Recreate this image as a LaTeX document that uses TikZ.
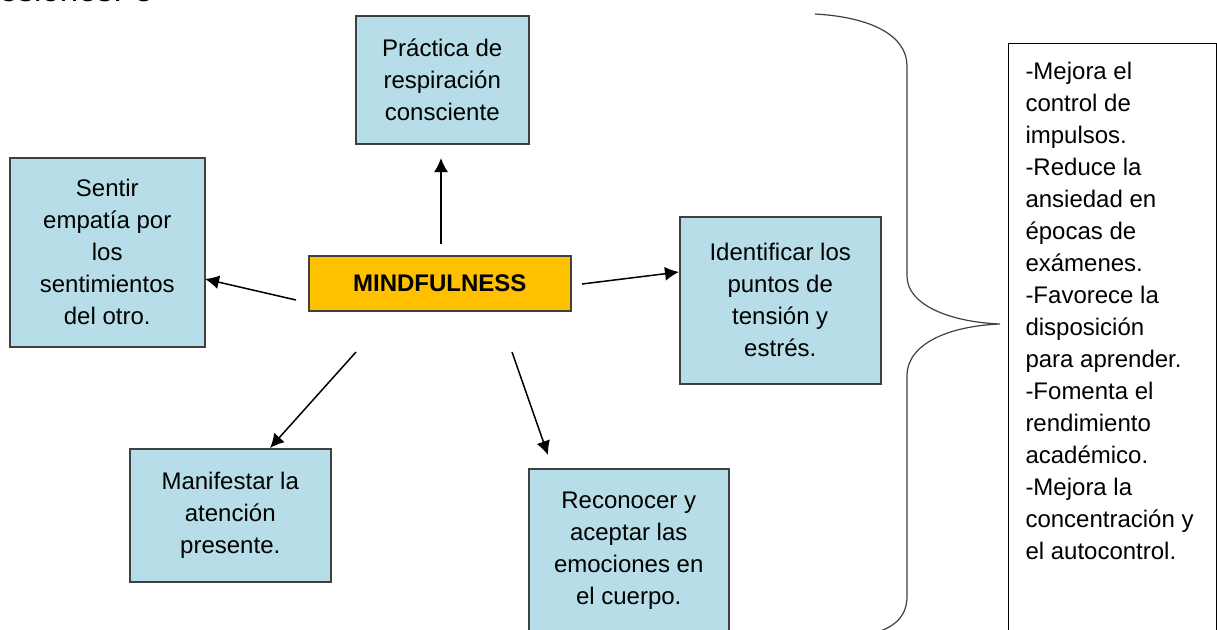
\documentclass[tikz,border=0pt]{standalone}
\usepackage{fontspec}
\setmainfont{Liberation Sans}
\usetikzlibrary{arrows.meta}

\begin{document}
\begin{tikzpicture}[x=0.5pt,y=-0.5pt,
  caja/.style={draw=borde, fill=celeste, line width=0.75pt, align=center,
    anchor=north west, inner sep=2pt, font=\fontsize{12}{16}\selectfont},
  flecha/.style={-{Latex[length=7pt,width=7pt]}, line width=0.75pt}]
\definecolor{celeste}{HTML}{B7DDE8}
\definecolor{borde}{HTML}{404040}
\definecolor{ambar}{HTML}{FFC000}

\useasboundingbox (0,0) rectangle (1217,629);
%\draw[very thin,color=lightgray,step=50] (0,0) grid (1217,629);

\node[anchor=base west, inner sep=0pt, font=\fontsize{16.5}{20}\selectfont] (titulo) at (-1,1) {esiones. 3};

% centro y cajas
\node[caja, fill=ambar, minimum width=131pt, minimum height=27.5pt,
  font=\bfseries\fontsize{12}{16}\selectfont] (mind) at (308,255) {MINDFULNESS};
\node[caja, minimum width=86.5pt, minimum height=64pt] (practica) at (355,15) {Práctica de\\respiración\\consciente};
\node[caja, minimum width=97.5pt, minimum height=94.5pt] (sentir) at (9,157) {Sentir\\empatía por\\los\\sentimientos\\del otro.};
\node[caja, minimum width=100.5pt, minimum height=83.5pt] (identificar) at (679,216) {Identificar los\\puntos de\\tensión y\\estrés.};
\node[caja, minimum width=100.5pt, minimum height=66.5pt] (manifestar) at (129,448) {Manifestar la\\atención\\presente.};
\node[caja, minimum width=100pt, minimum height=82pt] (reconocer) at (528,468) {Reconocer y\\aceptar las\\emociones en\\el cuerpo.};

% flechas
\coordinate (a1) at (441,244); \coordinate (b1) at (441,158);
\coordinate (a2) at (296,300); \coordinate (b2) at (205,279);
\coordinate (a3) at (582,284); \coordinate (b3) at (679,272);
\coordinate (a4) at (356,352); \coordinate (b4) at (270,448);
\coordinate (a5) at (512,352); \coordinate (b5) at (548,455);
\draw[flecha] (a1) -- (b1);
\draw[flecha] (a2) -- (b2);
\draw[flecha] (a3) -- (b3);
\draw[flecha] (a4) -- (b4);
\draw[flecha] (a5) -- (b5);

% llave
\draw[borde, line width=0.6pt] (815,14) .. controls (870,17) and (907,35) .. (907,66)
  -- (907,276) .. controls (907,305) and (950,322) .. (1000,324)
  .. controls (950,326) and (907,343) .. (907,376)
  -- (907,596) .. controls (907,615) and (897,625) .. (878,632);

% beneficios
\node[draw, line width=0.5pt, anchor=north west, inner xsep=8.5pt, inner ysep=9.5pt,
  font=\fontsize{12}{16}\selectfont] (beneficios) at (1008,43)
  {\parbox[t][300pt][t]{87pt}{\raggedright
  -Mejora el\\control de\\impulsos.\\-Reduce la\\ansiedad en\\épocas de\\exámenes.\\-Favorece la\\disposición\\para aprender.\\-Fomenta el\\rendimiento\\académico.\\-Mejora la\\concentración y\\el autocontrol.}};

\end{tikzpicture}
\end{document}
